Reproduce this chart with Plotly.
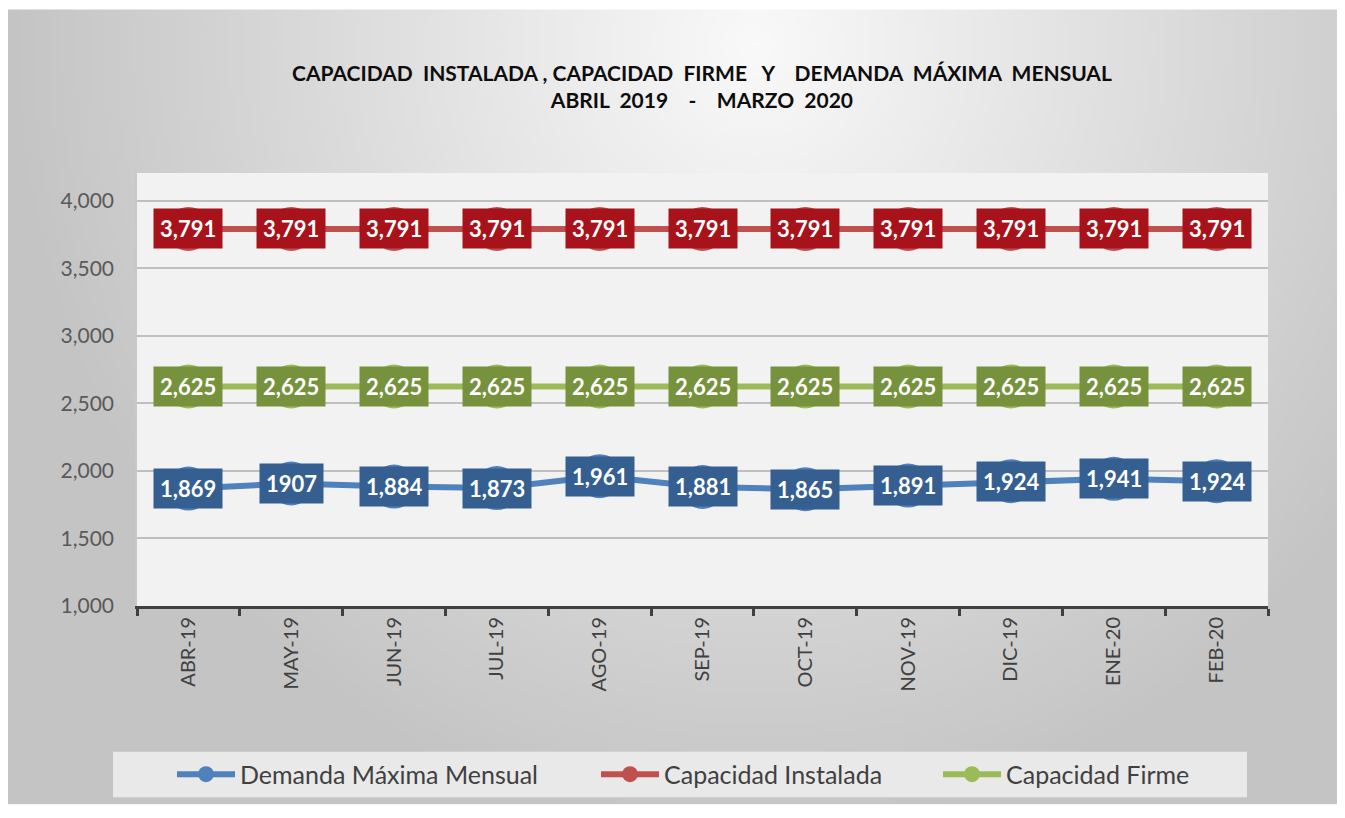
import base64
import struct
import zlib

import plotly.graph_objects as go

# ---------------- data ----------------
categories = ["ABR-19", "MAY-19", "JUN-19", "JUL-19", "AGO-19", "SEP-19",
              "OCT-19", "NOV-19", "DIC-19", "ENE-20", "FEB-20"]
demanda = [1869, 1907, 1884, 1873, 1961, 1881, 1865, 1891, 1924, 1941, 1924]
demanda_labels = ["1,869", "1907", "1,884", "1,873", "1,961", "1,881",
                  "1,865", "1,891", "1,924", "1,941", "1,924"]
instalada = [3791] * 11
firme = [2625] * 11
y_ticks = [1000, 1500, 2000, 2500, 3000, 3500, 4000]

W, H = 1329, 802
ML, MR, MT, MB = 129, 69, 165, 200
PW, PH = W - ML - MR, H - MT - MB
FONT = "Lato, Carlito, Calibri, sans-serif"


def px(xp):
    """figure pixel x -> paper x"""
    return (xp - ML) / PW


def py(yp):
    """figure pixel y (from top) -> paper y"""
    return (H - MB - yp) / PH


# ------------- background gradient (png built in memory) -------------
def gradient_png(w, h):
    rows = []
    cx, cy = 0.56 * w, 0.04 * h
    rx, ry = 0.56 * w, 1.0 * h
    light, dark = 249, 196
    for j in range(h):
        row = bytearray()
        for i in range(w):
            r = (((i - cx) / rx) ** 2 + ((j - cy) / ry) ** 2) ** 0.5
            r = min(1.0, r)
            row.append(int(round(light - (light - dark) * r)))
        rows.append(bytes(row))
    raw = b"".join(b"\x00" + r for r in rows)

    def chunk(t, d):
        return (struct.pack(">I", len(d)) + t + d +
                struct.pack(">I", zlib.crc32(t + d) & 0xFFFFFFFF))

    data = (b"\x89PNG\r\n\x1a\n" +
            chunk(b"IHDR", struct.pack(">IIBBBBB", w, h, 8, 0, 0, 0, 0)) +
            chunk(b"IDAT", zlib.compress(raw, 9)) + chunk(b"IEND", b""))
    return "data:image/png;base64," + base64.b64encode(data).decode()


bg_src = gradient_png(266, 160)

# ---------------- figure ----------------
series = [
    ("Demanda Máxima Mensual", demanda, demanda_labels, "#4f81bd", "#355f91", "legend"),
    ("Capacidad Instalada", instalada, [f"{v:,}" for v in instalada], "#c0504d", "#a8121a", "legend2"),
    ("Capacidad Firme", firme, [f"{v:,}" for v in firme], "#9bbb59", "#76923c", "legend3"),
]

fig = go.Figure()
annotations = []
for name, vals, labels, col, boxcol, leg in series:
    fig.add_trace(go.Scatter(
        x=categories, y=vals, name=name, mode="lines+markers",
        line=dict(color=col, width=6),
        marker=dict(color=col, size=44, symbol="circle"),
        legend=leg, hoverinfo="x+y",
    ))
    for c, v, t in zip(categories, vals, labels):
        annotations.append(dict(
            x=c, y=v, xref="x", yref="y", text=t, showarrow=False,
            bgcolor=boxcol, borderpad=6,
            font=dict(family=FONT, size=22, color="white", weight="bold"),
        ))

annotations.append(dict(
    x=px(694), y=py(77), xref="paper", yref="paper", showarrow=False,
    text="CAPACIDAD  INSTALADA , CAPACIDAD  FIRME   Y    DEMANDA  MÁXIMA  MENSUAL"
         "<br>ABRIL  2019    -    MARZO  2020",
    font=dict(family=FONT, size=21, color="#0d0d0d", weight="bold"),
    xanchor="center", yanchor="middle", align="center",
))

shapes = [
    dict(type="rect", xref="x domain", yref="y domain", x0=0, x1=1, y0=0, y1=1,
         fillcolor="#f2f2f2", line=dict(width=0), layer="below"),
    dict(type="rect", xref="paper", yref="paper",
         x0=px(105), x1=px(1239), y0=py(795), y1=py(749),
         fillcolor="#e9e9e9", line=dict(width=0), layer="below"),
]

ITEMW = 58
TEXT_OFF = ITEMW + 10
leg_common = dict(orientation="h", yanchor="middle", xanchor="left",
                  bgcolor="rgba(0,0,0,0)", borderwidth=0,
                  font=dict(family=FONT, size=25, color="#404040"),
                  itemwidth=ITEMW)

fig.update_layout(
    width=W, height=H,
    margin=dict(l=ML, r=MR, t=MT, b=MB),
    paper_bgcolor="white", plot_bgcolor="rgba(0,0,0,0)",
    font=dict(family=FONT),
    showlegend=True,
    legend=dict(x=px(232 - TEXT_OFF), y=py(772), **leg_common),
    legend2=dict(x=px(656 - TEXT_OFF), y=py(772), **leg_common),
    legend3=dict(x=px(998 - TEXT_OFF), y=py(772), **leg_common),
    images=[dict(source=bg_src, xref="paper", yref="paper", x=px(0), y=py(0),
                 sizex=W / PW, sizey=H / PH, xanchor="left", yanchor="top",
                 sizing="stretch", layer="below")],
    shapes=shapes,
    annotations=annotations,
    xaxis=dict(
        type="category", categoryorder="array", categoryarray=categories,
        range=[-0.5, len(categories) - 0.5],
        tickson="boundaries", ticks="outside", ticklen=7, tickwidth=3,
        tickcolor="#404040", showline=True, linecolor="#404040", linewidth=3,
        showgrid=False, tickangle=-90,
        tickfont=dict(family=FONT, size=20, color="#404040"),
        fixedrange=True,
    ),
    yaxis=dict(
        range=[1000, 4205], tickvals=y_ticks,
        ticktext=[f"{v:,}" for v in y_ticks],
        showgrid=True, gridcolor="#bfbfbf", gridwidth=2, zeroline=False,
        showline=True, linecolor="#c8c8c8", linewidth=1.5,
        ticks="", ticklabelstandoff=17,
        tickfont=dict(family=FONT, size=21, color="#595959"),
        fixedrange=True,
    ),
)

fig.write_html("out.html")
